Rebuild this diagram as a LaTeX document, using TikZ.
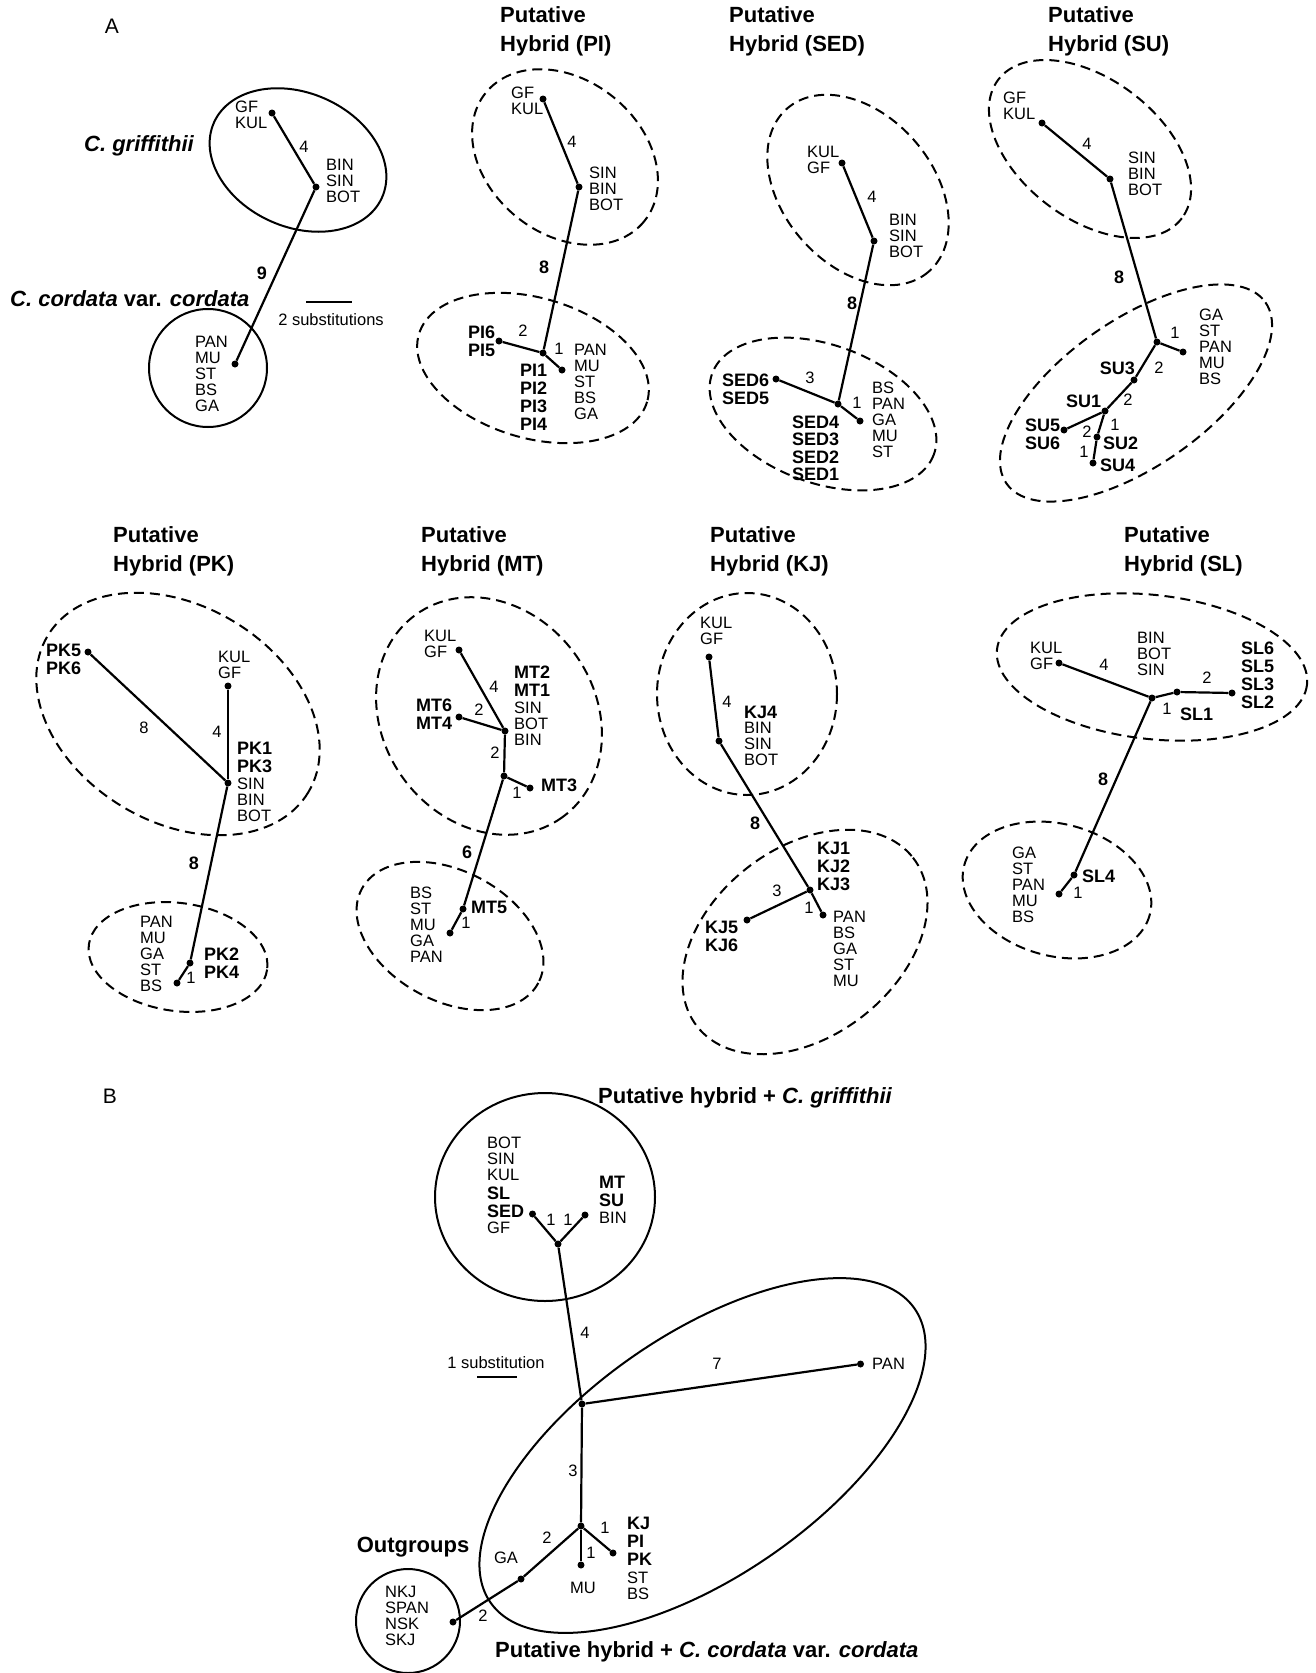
\documentclass[tikz,border=0pt]{standalone}
\usepackage{fontspec}
\setmainfont{Liberation Sans}
\begin{document}
\begin{tikzpicture}[x=1pt,y=-1pt,
 lab/.style={inner sep=0pt, anchor=north west, align=left, font=\fontsize{16.5}{16}\selectfont},
 blab/.style={inner sep=0pt, anchor=north west, align=left, font=\bfseries\fontsize{18}{18}\selectfont},
 num/.style={inner sep=0pt, font=\fontsize{16.5}{16}\selectfont},
 bnum/.style={inner sep=0pt, font=\bfseries\fontsize{18}{18}\selectfont},
 ttl/.style={inner sep=0pt, anchor=north west, align=left, font=\bfseries\fontsize{22}{29}\selectfont},
 big/.style={inner sep=0pt, font=\bfseries\fontsize{22}{22}\selectfont},
 panel/.style={inner sep=0pt, anchor=base, font=\fontsize{21}{21}\selectfont},
 dot/.style={circle, fill, inner sep=0pt, minimum size=7pt},
 br/.style={line width=2.2pt},
 grp/.style={line width=2pt},
 dgrp/.style={line width=2pt, dash pattern=on 10pt off 6pt},
 bar/.style={line width=2pt}]
\useasboundingbox (0,0) rectangle (1316,1673);

% ================= Panel A: parents =================
\node[panel] (labA) at (112,33) {A};
\draw[grp, rotate around={-24:(298,160)}] (298,160) ellipse [x radius=92, y radius=67];
\draw[grp] (208,368) circle [radius=59];
\node[dot] (a1) at (272,113) {};
\node[dot] (a2) at (316,187) {};
\node[dot] (a3) at (235,364) {};
\draw[br] (a1) -- (a2);
\draw[br] (a2) -- (a3);
\node[lab] (a1t) at (235,101) {GF\\KUL};
\node[num] (a1n) at (304,147) {4};
\node[lab] (a2t) at (326,159) {BIN\\SIN\\BOT};
\node[bnum] (a2n) at (262,273) {9};
\node[lab] (a3t) at (195,336) {PAN\\MU\\ST\\BS\\GA};
\node[big, anchor=base] (cg) at (139,151) {\itshape C. griffithii};
\node[big, anchor=base west] (cc) at (10,306) {\itshape C. cordata\/ \upshape var. \itshape cordata};
\coordinate (sb1) at (306,302);
\coordinate (sb2) at (352,302);
\draw[bar] (sb1) -- (sb2);
\node[num, anchor=base] (sbt) at (331,325) {2 substitutions};

% ================= PI =================
\node[ttl] (tPI) at (500,6) {Putative\\Hybrid (PI)};
\draw[dgrp, rotate around={-39:(565,157)}] (565,157) ellipse [x radius=102, y radius=77];
\draw[dgrp, rotate around={-16.5:(533,368)}] (533,368) ellipse [x radius=119, y radius=70];
\node[dot] (pa) at (543,99) {};
\node[dot] (pb) at (579,187) {};
\node[dot] (pc) at (543,353) {};
\node[dot] (pd) at (499,341) {};
\node[dot] (pe) at (562,370) {};
\draw[br] (pa) -- (pb);
\draw[br] (pb) -- (pc);
\draw[br] (pc) -- (pd);
\draw[br] (pc) -- (pe);
\node[lab] (pat) at (511,87) {GF\\KUL};
\node[num] (pan) at (572,142) {4};
\node[lab] (pbt) at (589,167) {SIN\\BIN\\BOT};
\node[bnum] (pbn) at (544,267) {8};
\node[blab] (pdt) at (468,325.5) {PI6\\PI5};
\node[num] (pdn) at (523,331) {2};
\node[num] (pen) at (559,349) {1};
\node[blab] (pct) at (520,363.5) {PI1\\PI2\\PI3\\PI4};
\node[lab] (pet) at (574,344) {PAN\\MU\\ST\\BS\\GA};

% ================= SED =================
\node[ttl] (tSED) at (729,6) {Putative\\Hybrid (SED)};
\draw[dgrp, rotate around={-49:(858,190)}] (858,190) ellipse [x radius=108, y radius=75];
\draw[dgrp, rotate around={-20:(823,414)}] (823,414) ellipse [x radius=118, y radius=69];
\node[dot] (sa) at (842,163) {};
\node[dot] (sb) at (874,241) {};
\node[dot] (sc) at (838,404) {};
\node[dot] (sd) at (776,379) {};
\node[dot] (se) at (860,421) {};
\draw[br] (sa) -- (sb);
\draw[br] (sb) -- (sc);
\draw[br] (sc) -- (sd);
\draw[br] (sc) -- (se);
\node[lab] (sat) at (807,146) {KUL\\GF};
\node[num] (san) at (872,197) {4};
\node[lab] (sbt) at (889,214) {BIN\\SIN\\BOT};
\node[bnum] (sbn) at (852,303) {8};
\node[blab] (sdt) at (722,373.5) {SED6\\SED5};
\node[num] (sdn) at (810,378) {3};
\node[num] (sen) at (857,403) {1};
\node[blab, font=\bfseries\fontsize{18}{17.5}\selectfont] (sct) at (792,415.5) {SED4\\SED3\\SED2\\SED1};
\node[lab] (set) at (872,382) {BS\\PAN\\GA\\MU\\ST};

% ================= SU =================
\node[ttl] (tSU) at (1048,6) {Putative\\Hybrid (SU)};
\draw[dgrp, rotate around={-37:(1090,149)}] (1090,149) ellipse [x radius=115, y radius=70];
\draw[dgrp, rotate around={35:(1136,393)}] (1136,393) ellipse [x radius=158, y radius=73];
\node[dot] (ua) at (1042,123) {};
\node[dot] (ub) at (1110,179) {};
\node[dot] (uc) at (1157,342) {};
\node[dot] (ud) at (1183,352) {};
\node[dot] (u3) at (1134,380) {};
\node[dot] (u1) at (1105,411) {};
\node[dot] (u5) at (1064,430) {};
\node[dot] (u2) at (1097,437) {};
\node[dot] (u4) at (1093,463) {};
\draw[br] (ua) -- (ub);
\draw[br] (ub) -- (uc);
\draw[br] (uc) -- (ud);
\draw[br] (uc) -- (u3);
\draw[br] (u3) -- (u1);
\draw[br] (u1) -- (u5);
\draw[br] (u1) -- (u2);
\draw[br] (u2) -- (u4);
\node[lab] (uat) at (1003,92) {GF\\KUL};
\node[num] (uan) at (1087,144) {4};
\node[lab] (ubt) at (1128,152) {SIN\\BIN\\BOT};
\node[bnum] (ubn) at (1119,277) {8};
\node[lab] (udt) at (1199,309) {GA\\ST\\PAN\\MU\\BS};
\node[num] (udn) at (1175,333) {1};
\node[blab, anchor=north east] (u3t) at (1135,361.5) {SU3};
\node[num] (u3n) at (1159,368) {2};
\node[blab] (u1t) at (1066,394.5) {SU1};
\node[num] (u1n) at (1128,400) {2};
\node[blab] (u5t) at (1025,418.5) {SU5\\SU6};
\node[num] (u5n) at (1087,432) {2};
\node[num] (u2n) at (1115,425) {1};
\node[num] (u4n) at (1084,452) {1};
\node[blab] (u2t) at (1103,436.5) {SU2};
\node[blab] (u4t) at (1100,458.5) {SU4};

% ================= PK =================
\node[ttl] (tPK) at (113,526) {Putative\\Hybrid (PK)};
\draw[dgrp, rotate around={-31:(178,714)}] (178,714) ellipse [x radius=152, y radius=108];
\draw[dgrp, rotate around={-8:(178,957)}] (178,957) ellipse [x radius=90, y radius=54];
\node[dot] (ka) at (88,652) {};
\node[dot] (kb) at (228,686) {};
\node[dot] (kc) at (228,783) {};
\node[dot] (kd) at (190,963) {};
\node[dot] (ke) at (177,983) {};
\draw[br] (ka) -- (kc);
\draw[br] (kb) -- (kc);
\draw[br] (kc) -- (kd);
\draw[br] (kd) -- (ke);
\node[blab] (kat) at (46,643.5) {PK5\\PK6};
\node[lab] (kbt) at (218,651) {KUL\\GF};
\node[num] (kan) at (144,728) {8};
\node[num] (kbn) at (217,732) {4};
\node[blab] (kct) at (237,741.5) {PK1\\PK3};
\node[lab] (kct2) at (237,778) {SIN\\BIN\\BOT};
\node[bnum] (kcn) at (194,863) {8};
\node[lab] (ket) at (140,916) {PAN\\MU\\GA\\ST\\BS};
\node[blab] (kdt) at (204,947.5) {PK2\\PK4};
\node[num] (ken) at (191,978) {1};

% ================= MT =================
\node[ttl] (tMT) at (421,526) {Putative\\Hybrid (MT)};
\draw[dgrp, rotate around={-54:(489,716)}] (489,716) ellipse [x radius=125, y radius=106];
\draw[dgrp, rotate around={-28:(450,936)}] (450,936) ellipse [x radius=100, y radius=65];
\node[dot] (ma) at (459,650) {};
\node[dot] (mb) at (505,731) {};
\node[dot] (mc) at (504,776) {};
\node[dot] (m3) at (530,788) {};
\node[dot] (m6) at (459,717) {};
\node[dot] (m5) at (463,909) {};
\node[dot] (me) at (450,933) {};
\draw[br] (ma) -- (mb);
\draw[br] (m6) -- (mb);
\draw[br] (mb) -- (mc);
\draw[br] (mc) -- (m3);
\draw[br] (mc) -- (m5);
\draw[br] (m5) -- (me);
\node[lab] (mat) at (424,630) {KUL\\GF};
\node[num] (man) at (494,687) {4};
\node[blab] (mbt) at (514,665.5) {MT2\\MT1};
\node[lab] (mbt2) at (514,702) {SIN\\BOT\\BIN};
\node[blab] (m6t) at (416,698.5) {MT6\\MT4};
\node[num] (m6n) at (479,710) {2};
\node[num] (mcn) at (495,753) {2};
\node[num] (m3n) at (517,793) {1};
\node[blab] (m3t) at (541,778.5) {MT3};
\node[bnum] (m5n) at (467,852) {6};
\node[lab] (met) at (410,887) {BS\\ST\\MU\\GA\\PAN};
\node[blab] (m5t) at (471,900.5) {MT5};
\node[num] (men) at (466,923) {1};

% ================= KJ =================
\node[ttl] (tKJ) at (710,526) {Putative\\Hybrid (KJ)};
\draw[dgrp] (747,694) ellipse [x radius=90, y radius=101];
\draw[dgrp, rotate around={38:(805,942)}] (805,942) ellipse [x radius=137, y radius=94];
\node[dot] (ja) at (709,657) {};
\node[dot] (jb) at (719,741) {};
\node[dot] (jc) at (810,890) {};
\node[dot] (jd) at (823,915) {};
\node[dot] (j5) at (747,920) {};
\draw[br] (ja) -- (jb);
\draw[br] (jb) -- (jc);
\draw[br] (jc) -- (jd);
\draw[br] (jc) -- (j5);
\node[lab] (jat) at (700,617) {KUL\\GF};
\node[num] (jan) at (727,702) {4};
\node[blab] (jbt) at (744,705.5) {KJ4};
\node[lab] (jbt2) at (744,722) {BIN\\SIN\\BOT};
\node[bnum] (jbn) at (755,823) {8};
\node[blab] (jct) at (817,841.5) {KJ1\\KJ2\\KJ3};
\node[num] (j5n) at (777,891) {3};
\node[num] (jdn) at (809,908) {1};
\node[blab] (j5t) at (705,920.5) {KJ5\\KJ6};
\node[lab] (jdt) at (833,911) {PAN\\BS\\GA\\ST\\MU};

% ================= SL =================
\node[ttl] (tSL) at (1124,526) {Putative\\Hybrid (SL)};
\draw[dgrp, rotate around={-6.5:(1152,667)}] (1152,667) ellipse [x radius=156, y radius=72];
\draw[dgrp, rotate around={-15:(1057,890)}] (1057,890) ellipse [x radius=96, y radius=66];
\node[dot] (la) at (1059,663) {};
\node[dot] (lb) at (1152,698) {};
\node[dot] (l1) at (1177,692) {};
\node[dot] (l2) at (1232,693) {};
\node[dot] (l4) at (1074,875) {};
\node[dot] (le) at (1059,894) {};
\draw[br] (la) -- (lb);
\draw[br] (lb) -- (l1);
\draw[br] (l1) -- (l2);
\draw[br] (lb) -- (l4);
\draw[br] (l4) -- (le);
\node[lab] (lat) at (1030,642) {KUL\\GF};
\node[num] (lan) at (1104,665) {4};
\node[lab] (lbt) at (1137,632) {BIN\\BOT\\SIN};
\node[num] (l2n) at (1207,678) {2};
\node[blab] (l2t) at (1241,641.5) {SL6\\SL5\\SL3\\SL2};
\node[num] (l1n) at (1167,709) {1};
\node[blab] (l1t) at (1180,707.5) {SL1};
\node[bnum] (l4n) at (1103,779) {8};
\node[lab] (let) at (1012,847) {GA\\ST\\PAN\\MU\\BS};
\node[blab] (l4t) at (1082,869.5) {SL4};
\node[num] (len) at (1078,893) {1};

% ================= Panel B =================
\node[panel] (labB) at (110,1103) {B};
\node[big, anchor=base] (bgt) at (745,1103) {Putative hybrid + \itshape C. griffithii};
\draw[grp] (545,1197) ellipse [x radius=110, y radius=104];
\draw[grp, rotate around={34.7:(702.5,1455.5)}] (702.5,1455.5) ellipse [x radius=258, y radius=121];
\draw[grp] (408,1621) circle [radius=52];
\node[dot] (bs) at (532.5,1214) {};
\node[dot] (bm) at (585,1215) {};
\node[dot] (bj) at (558,1244) {};
\node[dot] (bk) at (582,1404) {};
\node[dot] (bp) at (860.5,1364) {};
\node[dot] (bl) at (581,1526) {};
\node[dot] (bkj) at (613,1553) {};
\node[dot] (bmu) at (581,1565) {};
\node[dot] (bga) at (521,1579) {};
\node[dot] (bo) at (453,1622) {};
\draw[br] (bs) -- (bj);
\draw[br] (bm) -- (bj);
\draw[br] (bj) -- (bk);
\draw[br] (bk) -- (bp);
\draw[br] (bk) -- (bl);
\draw[br] (bl) -- (bkj);
\draw[br] (bl) -- (bmu);
\draw[br] (bl) -- (bga);
\draw[br] (bga) -- (bo);
\node[lab] (bt1) at (487,1137) {BOT\\SIN\\KUL};
\node[blab] (bt2) at (487,1186.5) {SL\\SED};
\node[lab] (bt3) at (487,1222) {GF};
\node[blab] (bt4) at (599,1175.5) {MT\\SU};
\node[lab] (bt5) at (599,1212) {BIN};
\node[num] (bn1) at (551,1220) {1};
\node[num] (bn2) at (568,1220) {1};
\node[num] (bn3) at (585,1333) {4};
\node[num, anchor=base] (bsub) at (496,1368) {1 substitution};
\coordinate (sc1) at (477,1377);
\coordinate (sc2) at (517,1377);
\draw[bar] (sc1) -- (sc2);
\node[num] (bn4) at (717,1364) {7};
\node[lab] (bpt) at (872,1358) {PAN};
\node[num] (bn5) at (573,1471) {3};
\node[num] (bn6) at (605,1528) {1};
\node[num] (bn7) at (591,1553) {1};
\node[num] (bmut) at (583,1588) {MU};
\node[num] (bn8) at (547,1538) {2};
\node[num] (bgat) at (506,1558) {GA};
\node[num] (bn9) at (483,1616) {2};
\node[blab] (bt6) at (627,1516.5) {KJ\\PI\\PK};
\node[lab] (bt7) at (627,1572) {ST\\BS};
\node[big, anchor=base] (bout) at (413,1552) {Outgroups};
\node[lab] (bt8) at (385,1586) {NKJ\\SPAN\\NSK\\SKJ};
\node[big, anchor=base west] (bcc) at (495,1657) {Putative hybrid + \itshape C. cordata\/ \upshape var. \itshape cordata};
\end{tikzpicture}
\end{document}
